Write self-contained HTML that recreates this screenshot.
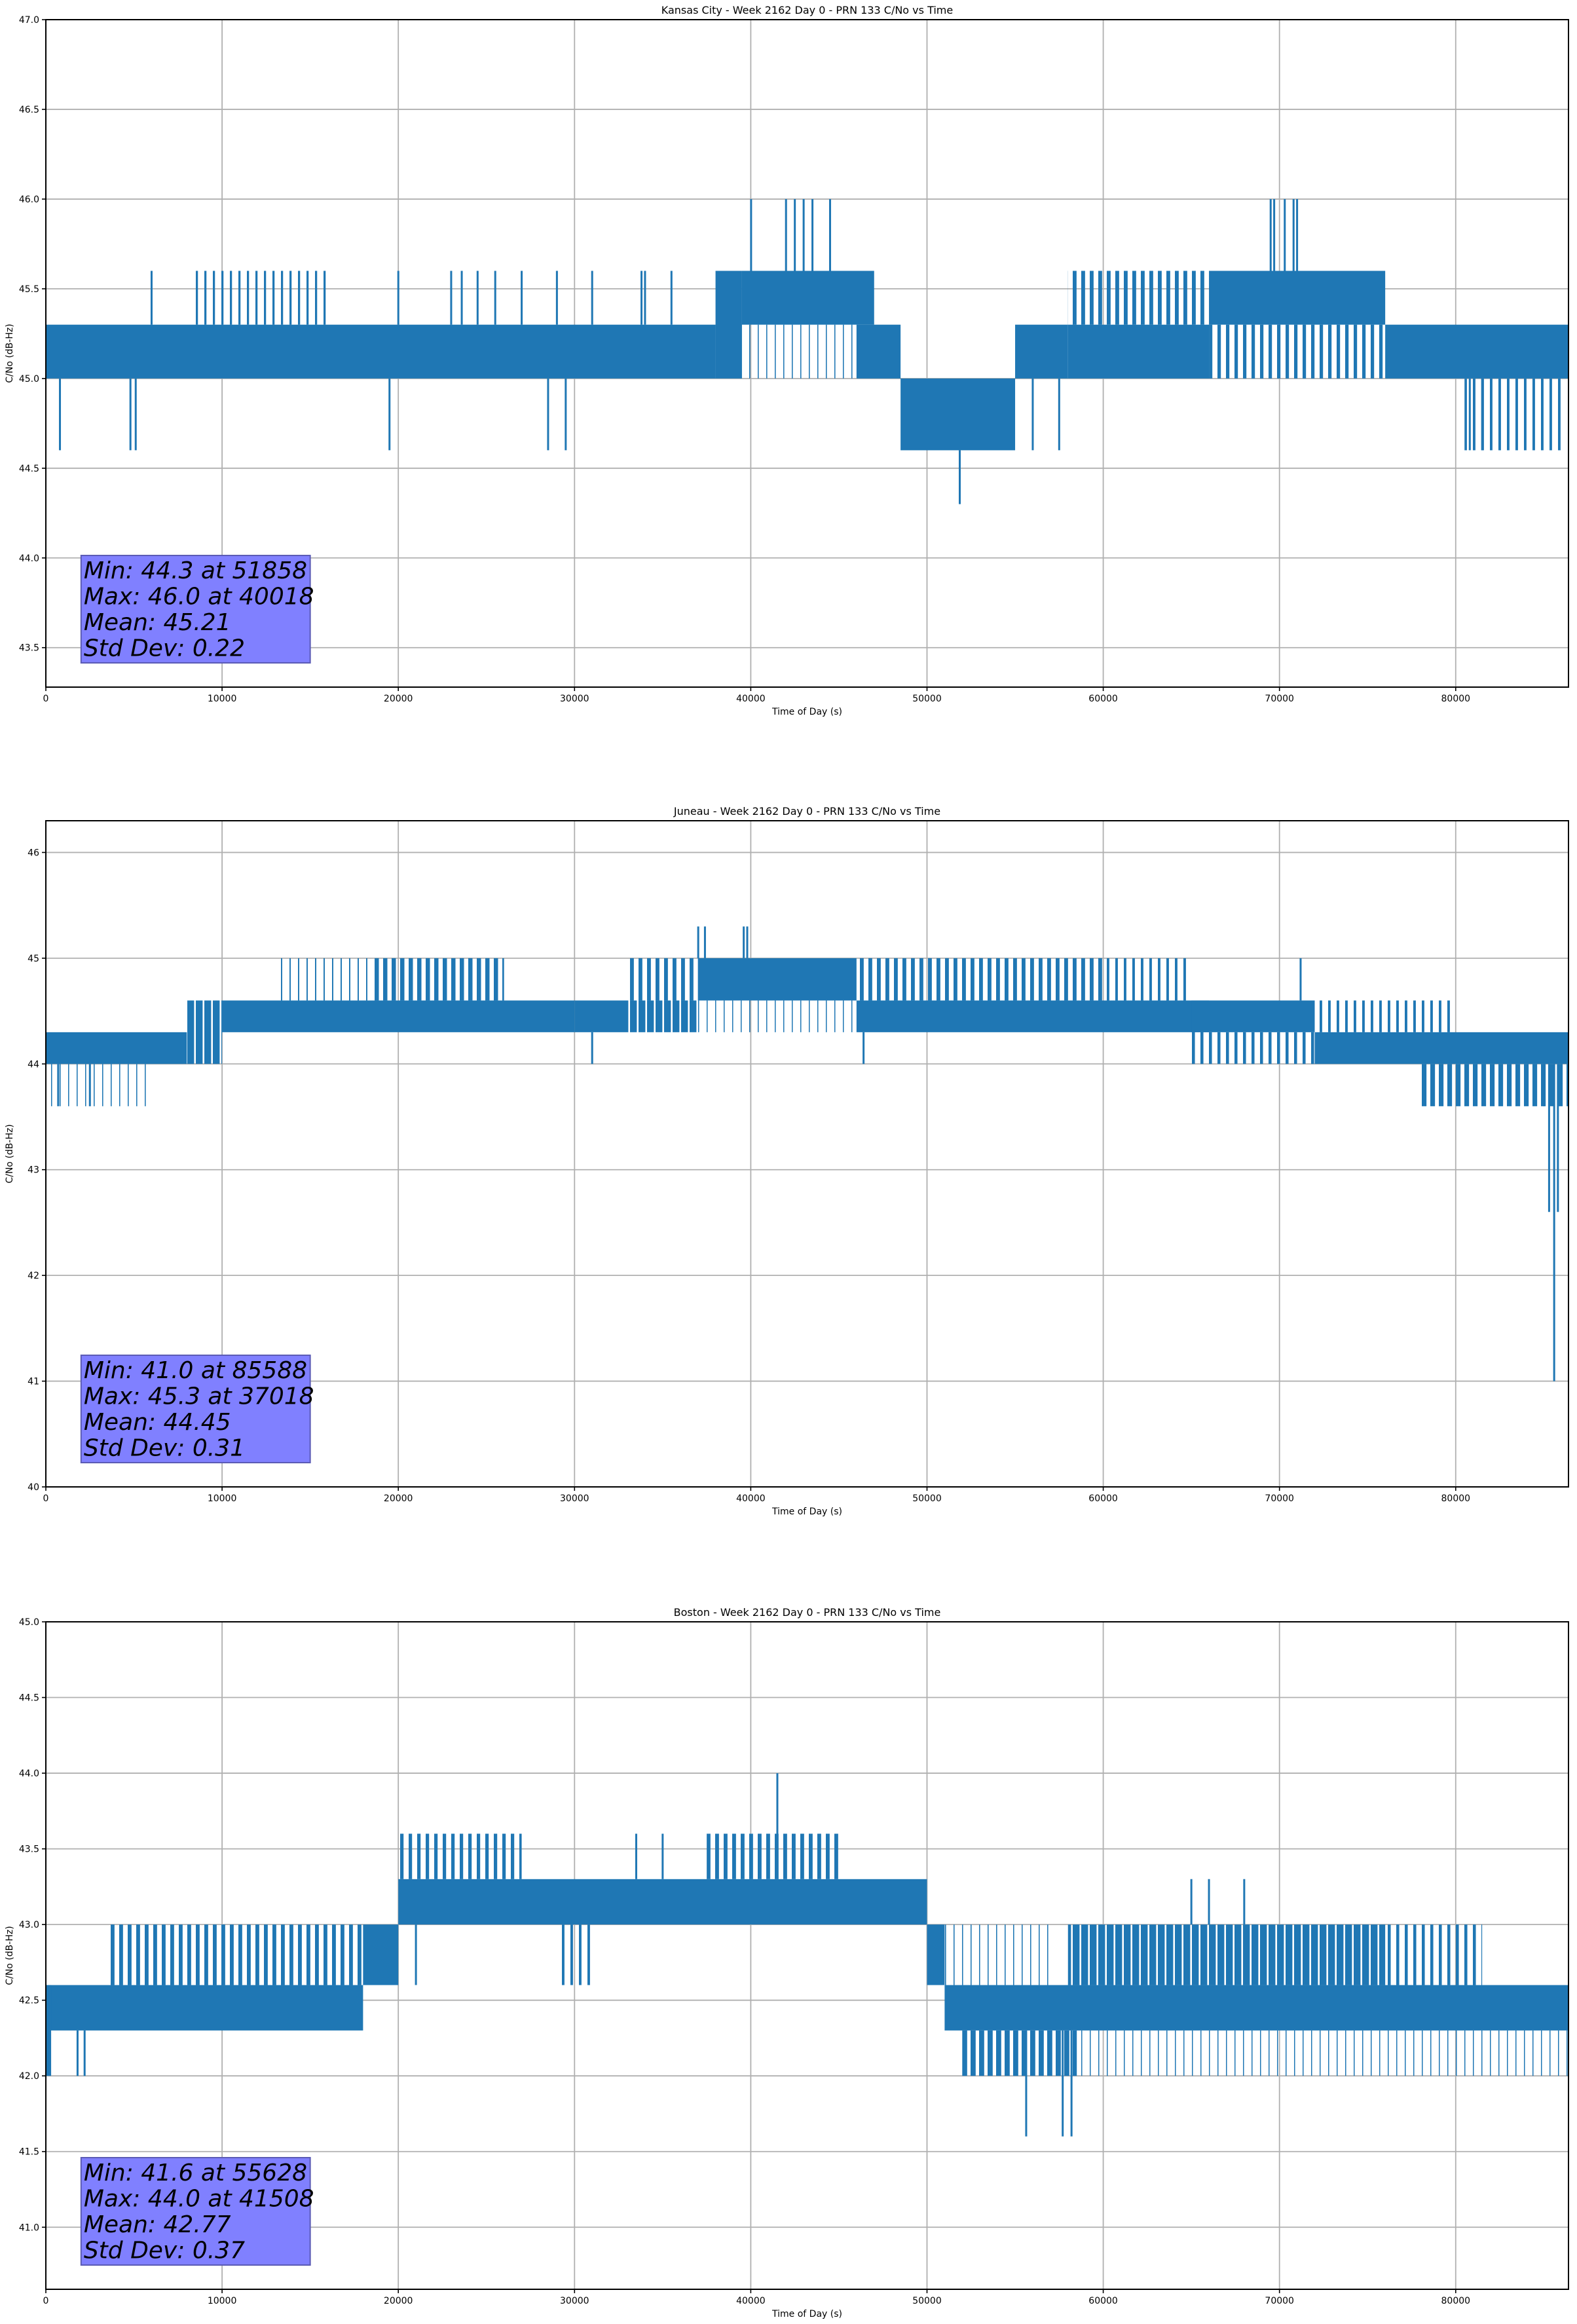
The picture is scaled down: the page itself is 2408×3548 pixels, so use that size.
<!DOCTYPE html>
<html><head><meta charset="utf-8">
<style>
html,body{margin:0;padding:0;background:#fff;}
svg{display:block;font-family:"DejaVu Sans","Liberation Sans",sans-serif;}
</style></head>
<body>
<svg id="fig" width="2408" height="3548" viewBox="0 0 2408 3548" xmlns="http://www.w3.org/2000/svg"><defs id="defs"></defs></svg>
<script>
// ---------- data ----------
const xTicks = [0,10000,20000,30000,40000,50000,60000,70000,80000];
const titles = ["Kansas City - Week 2162 Day 0 - PRN 133 C/No vs Time",
                "Juneau - Week 2162 Day 0 - PRN 133 C/No vs Time",
                "Boston - Week 2162 Day 0 - PRN 133 C/No vs Time"];
const yTicks1 = [43.5,44.0,44.5,45.0,45.5,46.0,46.5,47.0];
const yTicks2 = [40,41,42,43,44,45,46];
const yTicks3 = [41.0,41.5,42.0,42.5,43.0,43.5,44.0,44.5,45.0];
const yLims = [[43.28,47.0],[40.0,46.3],[40.59,45.0]];
// band segments: [start, end, low, high, fillFraction]
const bands1 = [[0,38000,45.0,45.3,1],[38000,39500,45.0,45.6,1],[39500,47000,45.3,45.6,1],[39500,46000,45.0,45.3,0.12],
  [46000,48500,45.0,45.3,1],[48500,55000,44.6,45.0,1],[55000,58000,45.0,45.3,1],[58000,66000,45.0,45.3,1],[58000,66000,45.3,45.6,0.45],
  [66000,76000,45.3,45.6,1],[66000,76000,45.0,45.3,0.4],[76000,86400,45.0,45.3,1],[80500,86000,44.6,45.0,0.3],[8500,16000,45.3,45.6,0.25]];
const spikes1 = [[800,44.6],[4800,44.6],[5100,44.6],[6000,45.6],[19500,44.6],[20000,45.6],[23000,45.6],[23600,45.6],[24500,45.6],[25500,45.6],[27000,45.6],
  [28500,44.6],[29500,44.6],[29000,45.6],[31000,45.6],[33800,45.6],[34000,45.6],[35500,45.6],[40018,46.0],[42000,46.0],[42500,46.0],[43000,46.0],[43500,46.0],[44500,46.0],
  [51858,44.3],[56000,44.6],[57500,44.6],[69500,46.0],[69700,46.0],[70300,46.0],[70800,46.0],[71000,46.0],[80800,44.6],[81500,44.6]];
const bands2 = [[0,8000,44.0,44.3,1],[8000,10000,44.0,44.6,0.8],[10000,30000,44.3,44.6,1],[18500,26000,44.6,45.0,0.5],[13000,18500,44.6,45.0,0.15],
  [30000,33000,44.3,44.6,1],[33000,37000,44.3,44.6,0.8],[33000,37000,44.6,45.0,0.45],[37000,46000,44.6,45.0,1],[37000,46000,44.3,44.6,0.08],
  [46000,66000,44.3,44.6,1],[46000,60000,44.6,45.0,0.45],[60000,65000,44.6,45.0,0.3],[65000,72000,44.3,44.6,1],[65000,72000,44.0,44.3,0.35],
  [72000,86400,44.0,44.3,1],[72000,80000,44.3,44.6,0.3],[78000,86400,43.6,44.0,0.55],[0,6000,43.6,44.0,0.12]];
const spikes2 = [[700,43.6],[2500,43.6],[31000,44.0],[37018,45.3],[37400,45.3],[39600,45.3],[39800,45.3],[46400,44.0],[71200,45.0],[85000,43.6],[85300,42.6],[85588,41.0],[85800,42.6]];
const bands3 = [[0,18000,42.3,42.6,1],[0,300,42.0,42.6,1],[3500,18000,42.6,43.0,0.45],[18000,20000,42.6,43.0,1],[20000,50000,43.0,43.3,1],
  [20000,27000,43.3,43.6,0.4],[37500,45000,43.3,43.6,0.45],[29000,31000,42.6,43.0,0.3],[50000,51000,42.6,43.0,1],[51000,86400,42.3,42.6,1],
  [51000,57000,42.6,43.0,0.12],[58000,76000,42.6,43.0,0.8],[76000,81500,42.6,43.0,0.35],[52000,58500,42.0,42.3,0.6],[58500,86400,42.0,42.3,0.08]];
const spikes3 = [[1800,42.0],[2200,42.0],[16500,42.3],[21000,42.6],[33500,43.6],[35000,43.6],[41508,44.0],[55628,41.6],[57700,41.6],[58200,41.6],[65000,43.3],[66000,43.3],[68000,43.3]];
const stats = [["Min: 44.3 at 51858","Max: 46.0 at 40018","Mean: 45.21","Std Dev: 0.22"],
               ["Min: 41.0 at 85588","Max: 45.3 at 37018","Mean: 44.45","Std Dev: 0.31"],
               ["Min: 41.6 at 55628","Max: 44.0 at 41508","Mean: 42.77","Std Dev: 0.37"]];

// ---------- drawing ----------
const NS = "http://www.w3.org/2000/svg";
const svg = document.getElementById('fig');
const defs = document.getElementById('defs');
function mk(tag, attrs, parent){const e=document.createElementNS(NS,tag);for(const k in attrs)e.setAttribute(k,attrs[k]);(parent||svg).appendChild(e);return e;}
const L=70,R=2395,XMAX=86400;
const frames=[[30,1049],[1253,2270],[2476,3495]];
const yTickSets=[yTicks1,yTicks2,yTicks3];
const bandSets=[bands1,bands2,bands3];
const spikeSets=[spikes1,spikes2,spikes3];
const yFmt=[v=>v.toFixed(1),v=>String(v),v=>v.toFixed(1)];
const C="#1f77b4";
function sx(v){return L+(v/XMAX)*(R-L);}
const patCache={};
function pattern(frac){
  const key=Math.round(frac*100);
  if(patCache[key])return patCache[key];
  const id='stripe'+key;const P=13;
  const p=mk('pattern',{id:id,width:P,height:10,patternUnits:'userSpaceOnUse'},defs);
  mk('rect',{x:0,y:0,width:Math.max(1.5,frac*P),height:10,fill:C},p);
  patCache[key]='url(#'+id+')';return patCache[key];
}

for(let i=0;i<3;i++){
  const [T,B]=frames[i]; const [y0,y1]=yLims[i];
  const sy=v=>B-(v-y0)/(y1-y0)*(B-T);
  const g=mk('g',{});
  
  
  xTicks.forEach(t=>{const l=mk('line',{x1:sx(t),x2:sx(t),y1:T,y2:B,stroke:'#b0b0b0','stroke-width':1.8},g);
    });
  yTickSets[i].forEach(t=>{const l=mk('line',{x1:L,x2:R,y1:sy(t),y2:sy(t),stroke:'#b0b0b0','stroke-width':1.8},g);
    });
  bandSets[i].forEach(b=>{const r=mk('rect',{x:sx(b[0]),y:sy(b[3]),width:sx(b[1])-sx(b[0]),height:sy(b[2])-sy(b[3]),fill:b[4]>=0.99?C:pattern(b[4])},g);
    });
  spikeSets[i].forEach(s=>{
    let ref=s[1];let best=1e9;
    bandSets[i].forEach(b=>{if(s[0]>=b[0]&&s[0]<=b[1]&&b[4]>=0.8){[b[2],b[3]].forEach(e=>{const d=Math.abs(e-s[1]);if(d<best){best=d;ref=e;}});}});
    const l=mk('line',{x1:sx(s[0]),x2:sx(s[0]),y1:sy(s[1]),y2:sy(ref),stroke:C,'stroke-width':3},g);
    });
  const f=mk('rect',{x:L,y:T,width:R-L,height:B-T,fill:'none',stroke:'#000','stroke-width':2},g);
  
  xTicks.forEach(t=>{mk('line',{x1:sx(t),x2:sx(t),y1:B,y2:B+6,stroke:'#000','stroke-width':1.6},g);
    const tx=mk('text',{x:sx(t),y:B+22,'font-size':14,'text-anchor':'middle',fill:'#000'},g);tx.textContent=t;
    });
  yTickSets[i].forEach(t=>{mk('line',{x1:L-6,x2:L,y1:sy(t),y2:sy(t),stroke:'#000','stroke-width':1.6},g);
    const tx=mk('text',{x:L-10,y:sy(t)+5,'font-size':14,'text-anchor':'end',fill:'#000'},g);tx.textContent=yFmt[i](t);
    });
  const tt=mk('text',{x:(L+R)/2,y:T-9,'font-size':16,'text-anchor':'middle',fill:'#000'},g);tt.textContent=titles[i];
  
  const xl=mk('text',{x:(L+R)/2,y:B+42,'font-size':14,'text-anchor':'middle',fill:'#000'},g);xl.textContent='Time of Day (s)';
  
  const yc=(T+B)/2;
  const yl=mk('text',{x:19,y:yc,'font-size':14,'text-anchor':'middle',fill:'#000',transform:`rotate(-90 19 ${yc})`},g);yl.textContent='C/No (dB-Hz)';
  
  const bx=sx(2000), bw=sx(15000)-sx(2000), bh=164, by=B-37-bh;
  const r=mk('rect',{x:bx,y:by,width:bw,height:bh,fill:'#8080ff',stroke:'#5b5bb5','stroke-width':2},g);
  
  stats[i].forEach((s,k)=>{
    const tx=mk('text',{x:bx+4,y:by+35+k*39.5,'font-size':36,'font-style':'italic',fill:'#000'},g);
    tx.textContent=s;
    });
}
</script>
</body></html>
